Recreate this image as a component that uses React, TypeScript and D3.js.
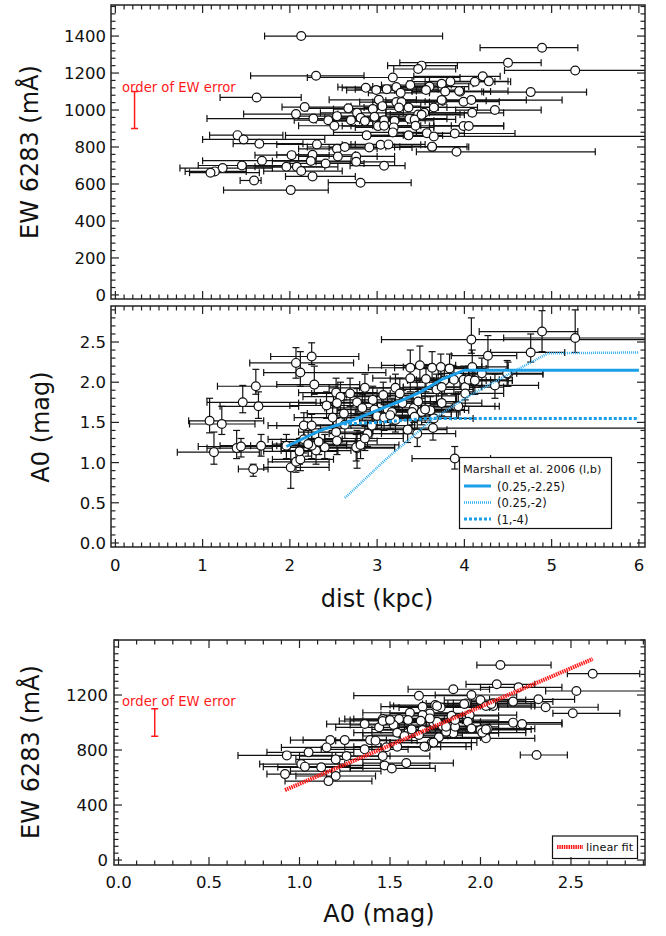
import React, { useEffect, useRef } from 'react';
import * as d3 from 'd3';

// top panel: dist (kpc), EW 6283 (mA), dist low, dist high
const ewDist: number[][] = [
  [2.13, 1400, 1.71, 3.75], [4.89, 1337, 4.18, 5.30], [4.50, 1256, 3.26, 4.88], [5.27, 1214, 4.46, 6.20],
  [3.51, 1240, 3.12, 3.92], [3.47, 1222, 3.19, 3.90], [2.30, 1185, 1.55, 2.85], [3.18, 1176, 2.20, 3.95],
  [4.21, 1182, 3.42, 4.41], [4.12, 1153, 3.55, 4.53], [4.28, 1155, 3.60, 4.50], [3.84, 1154, 3.40, 4.35],
  [3.74, 1142, 3.35, 4.10], [3.60, 1127, 2.95, 4.05], [3.38, 1135, 3.05, 3.85], [3.22, 1124, 2.55, 3.75],
  [2.87, 1120, 2.60, 3.55], [2.99, 1108, 2.65, 3.40], [3.11, 1113, 2.75, 3.70], [3.27, 1093, 2.90, 3.60],
  [3.56, 1108, 3.20, 4.00], [3.78, 1100, 3.40, 4.30], [3.95, 1099, 3.60, 4.20], [1.62, 1068, 1.20, 2.13],
  [3.02, 1055, 2.45, 3.45], [3.22, 1043, 2.80, 3.75], [3.28, 1043, 2.95, 3.60], [3.75, 1050, 3.10, 4.25],
  [3.99, 1045, 3.55, 4.40], [4.08, 1054, 3.70, 5.12], [3.94, 1103, 3.45, 4.50], [4.76, 1097, 4.22, 5.40],
  [2.17, 1016, 1.91, 2.65], [2.67, 1009, 2.20, 3.10], [2.77, 985, 2.35, 3.30], [2.95, 1005, 2.50, 3.35],
  [3.06, 1021, 2.70, 3.50], [3.25, 1014, 2.85, 3.70], [3.36, 1014, 3.00, 3.80], [3.47, 976, 3.15, 3.95],
  [3.54, 985, 3.10, 4.05], [3.65, 1014, 3.25, 4.15], [4.09, 985, 3.60, 4.45], [4.35, 1000, 3.90, 4.88],
  [2.07, 978, 1.47, 2.55], [2.27, 954, 1.05, 2.85], [2.44, 945, 2.05, 2.95], [2.54, 967, 2.10, 3.00],
  [2.70, 945, 2.30, 3.20], [2.81, 958, 2.40, 3.25], [2.86, 940, 2.50, 3.35], [2.97, 963, 2.55, 3.45],
  [3.08, 945, 2.70, 3.55], [3.20, 942, 2.80, 3.65], [3.37, 953, 2.95, 3.80], [3.43, 949, 3.05, 3.90],
  [3.51, 974, 3.10, 4.00], [3.74, 1054, 3.30, 4.71], [2.51, 915, 2.10, 2.95], [3.01, 913, 2.60, 3.45],
  [3.08, 915, 2.70, 3.50], [3.19, 906, 2.75, 3.65], [3.44, 915, 3.05, 3.85], [3.99, 914, 3.60, 4.45],
  [4.05, 914, 3.65, 4.45], [2.88, 863, 1.95, 3.30], [3.18, 879, 2.50, 3.60], [3.36, 863, 2.90, 3.75],
  [3.57, 875, 3.15, 4.00], [3.65, 857, 2.90, 6.20], [3.89, 873, 3.45, 4.58], [1.40, 864, 1.08, 1.92],
  [1.47, 841, 1.00, 2.40], [1.65, 818, 1.35, 2.15], [2.31, 814, 1.85, 2.75], [2.54, 790, 2.10, 3.00],
  [2.63, 800, 2.20, 3.10], [2.91, 798, 2.45, 3.40], [3.04, 812, 2.60, 3.50], [3.13, 814, 2.70, 3.55],
  [3.63, 800, 3.20, 4.05], [3.91, 774, 3.45, 5.50], [3.63, 802, 3.26, 4.03], [2.02, 756, 1.60, 2.45],
  [2.26, 758, 1.85, 2.75], [2.55, 749, 2.10, 3.00], [2.76, 749, 2.30, 3.20], [1.68, 726, 1.00, 2.20],
  [1.45, 700, 0.95, 1.95], [1.23, 686, 0.74, 1.80], [1.14, 668, 0.80, 1.50], [1.09, 661, 0.85, 1.65],
  [1.96, 693, 1.50, 2.40], [2.08, 693, 1.60, 2.55], [2.13, 670, 1.70, 2.60], [2.24, 724, 1.80, 2.70],
  [2.41, 711, 2.00, 2.85], [2.76, 720, 2.30, 3.20], [3.08, 699, 2.69, 3.32], [2.26, 641, 1.95, 2.75],
  [1.59, 619, 1.43, 1.67], [2.81, 607, 2.44, 3.39], [2.01, 567, 1.24, 2.44],
];

// middle panel: dist, A0, dist low, dist high, A0 low, A0 high
const a0Dist: number[][] = [
  [4.89, 2.63, 4.17, 5.30, 2.38, 2.89], [5.27, 2.55, 4.45, 6.20, 2.37, 2.90], [4.76, 2.37, 4.30, 5.15, 2.25, 2.60],
  [4.08, 2.53, 3.05, 6.20, 2.36, 2.80], [4.27, 2.33, 3.85, 4.60, 2.15, 2.58], [4.09, 2.19, 3.60, 4.50, 2.02, 2.40],
  [4.20, 2.11, 3.70, 4.60, 1.95, 2.30], [4.50, 2.10, 4.05, 4.90, 1.95, 2.25], [4.35, 1.96, 3.95, 4.85, 1.80, 2.10],
  [3.99, 2.03, 3.55, 4.40, 1.88, 2.20], [4.10, 2.02, 3.70, 4.55, 1.85, 2.20], [3.91, 1.70, 3.50, 4.35, 1.55, 1.85],
  [3.89, 1.05, 3.40, 4.30, 0.92, 1.20], [3.38, 2.18, 2.90, 3.80, 2.00, 2.40], [3.49, 2.21, 3.05, 3.90, 2.00, 2.45],
  [3.63, 2.18, 3.20, 4.05, 2.00, 2.38], [3.73, 2.19, 3.30, 4.20, 2.00, 2.35], [3.46, 1.83, 3.05, 3.90, 1.65, 2.00],
  [3.42, 1.68, 3.00, 3.85, 1.50, 1.85], [3.21, 1.93, 2.80, 3.65, 1.75, 2.10], [3.68, 1.91, 3.25, 4.10, 1.75, 2.10],
  [3.77, 2.02, 3.35, 4.25, 1.85, 2.20], [3.88, 2.03, 3.45, 4.30, 1.85, 2.20], [2.77, 1.18, 2.35, 3.20, 0.93, 1.40],
  [2.25, 2.32, 1.78, 2.79, 2.22, 2.49], [2.07, 2.24, 1.54, 2.73, 2.05, 2.43], [2.12, 2.12, 1.70, 3.10, 1.95, 2.38],
  [1.61, 1.95, 1.17, 2.55, 1.85, 2.16], [2.28, 1.97, 1.85, 2.80, 1.85, 2.20], [1.46, 1.75, 1.05, 2.30, 1.62, 1.96],
  [1.64, 1.70, 1.20, 2.10, 1.55, 1.88], [1.08, 1.52, 0.84, 1.70, 1.37, 1.80], [1.22, 1.48, 0.85, 1.60, 1.35, 1.70],
  [1.13, 1.13, 0.71, 1.65, 0.98, 1.38], [1.39, 1.18, 1.05, 1.80, 1.05, 1.40], [1.44, 1.20, 0.95, 1.90, 1.07, 1.30],
  [1.67, 1.21, 1.20, 2.10, 1.08, 1.35], [1.58, 0.92, 1.41, 1.75, 0.83, 0.98], [1.96, 1.21, 1.55, 2.40, 1.05, 1.35],
  [2.01, 0.94, 1.70, 2.45, 0.68, 1.15], [2.07, 1.01, 1.75, 2.45, 0.88, 1.15], [2.12, 1.04, 1.80, 2.50, 0.90, 1.20],
  [2.16, 1.46, 1.75, 2.60, 1.30, 1.62], [2.25, 1.46, 1.85, 2.70, 1.30, 1.60], [2.30, 1.15, 1.90, 2.70, 0.98, 1.30],
  [2.25, 1.21, 1.85, 2.65, 1.05, 1.35], [2.40, 1.19, 2.00, 2.85, 1.05, 1.35], [2.42, 1.71, 2.00, 2.85, 1.55, 1.88],
  [2.53, 1.87, 2.10, 3.00, 1.70, 2.05], [2.58, 1.82, 2.15, 3.05, 1.65, 2.00], [2.69, 1.86, 2.25, 3.15, 1.70, 2.05],
  [2.49, 1.56, 2.05, 2.95, 1.40, 1.72], [2.53, 1.38, 2.10, 2.95, 1.22, 1.55], [2.54, 1.27, 2.10, 3.00, 1.10, 1.42],
  [2.63, 1.47, 2.20, 3.05, 1.30, 1.62], [2.76, 1.19, 2.35, 3.20, 1.02, 1.35], [2.81, 1.22, 2.40, 3.25, 1.05, 1.38],
  [2.89, 1.36, 2.45, 3.30, 1.20, 1.52], [2.86, 1.30, 2.40, 3.30, 1.15, 1.45], [2.86, 1.93, 2.45, 3.30, 1.75, 2.10],
  [2.77, 1.75, 2.35, 3.20, 1.60, 1.92], [2.83, 1.68, 2.40, 3.25, 1.52, 1.85], [2.95, 1.78, 2.50, 3.40, 1.62, 1.95],
  [2.97, 1.66, 2.55, 3.40, 1.50, 1.82], [3.00, 1.58, 2.60, 3.45, 1.42, 1.75], [2.94, 1.46, 2.50, 3.40, 1.30, 1.62],
  [3.07, 1.84, 2.65, 3.50, 1.68, 2.00], [3.12, 1.66, 2.70, 3.55, 1.50, 1.82], [3.26, 1.86, 2.85, 3.70, 1.70, 2.05],
  [3.17, 1.63, 2.75, 3.60, 1.47, 1.80], [3.29, 1.74, 2.85, 3.70, 1.58, 1.90], [3.38, 2.05, 2.95, 3.80, 1.88, 2.22],
  [3.47, 1.76, 3.05, 3.90, 1.60, 1.92], [3.40, 1.63, 3.00, 3.85, 1.47, 1.80], [3.51, 1.63, 3.10, 3.95, 1.47, 1.80],
  [3.35, 1.41, 2.95, 3.80, 1.25, 1.58], [3.46, 1.36, 3.05, 3.90, 1.20, 1.52], [3.56, 2.04, 3.15, 4.00, 1.88, 2.22],
  [3.83, 2.17, 3.40, 4.25, 2.00, 2.35], [3.74, 1.94, 3.30, 4.20, 1.78, 2.10], [3.74, 1.74, 3.30, 4.20, 1.58, 1.90],
  [3.64, 1.43, 2.35, 6.20, 1.28, 1.60], [3.65, 1.55, 3.20, 4.10, 1.40, 1.72], [4.01, 1.94, 3.55, 4.45, 1.78, 2.10],
  [4.01, 1.86, 3.55, 4.45, 1.70, 2.02], [4.05, 2.03, 3.60, 4.50, 1.88, 2.20], [4.12, 2.02, 3.65, 4.55, 1.85, 2.18],
  [4.49, 2.11, 4.05, 4.90, 1.95, 2.27], [3.93, 1.70, 3.50, 4.40, 1.55, 1.88], [3.61, 1.65, 3.15, 4.05, 1.50, 1.82],
  [3.55, 1.66, 3.10, 4.00, 1.50, 1.82], [3.43, 1.57, 3.00, 3.85, 1.42, 1.72], [3.21, 1.53, 2.80, 3.65, 1.38, 1.70],
  [3.08, 1.56, 2.65, 3.50, 1.40, 1.72], [3.15, 1.59, 2.70, 3.60, 1.42, 1.75], [2.62, 1.61, 2.20, 3.05, 1.45, 1.78],
  [2.16, 1.29, 1.75, 2.60, 1.12, 1.45], [2.21, 1.23, 1.80, 2.65, 1.08, 1.40], [2.33, 1.26, 1.90, 2.75, 1.10, 1.42],
  [2.11, 1.14, 1.70, 2.55, 0.98, 1.30], [2.54, 1.74, 2.10, 3.00, 1.58, 1.90],
];

// bottom panel: A0, EW 6283, A0 low, A0 high
const ewA0: number[][] = [
  [2.11, 1418, 1.98, 2.39], [2.62, 1355, 2.48, 2.88], [2.53, 1229, 2.36, 2.95], [2.09, 1278, 1.92, 2.30],
  [1.85, 1242, 1.60, 2.05], [1.66, 1195, 1.30, 1.95], [1.95, 1200, 1.75, 2.20], [2.21, 1256, 2.00, 2.45],
  [2.32, 1169, 2.05, 2.52], [2.36, 1111, 2.10, 2.65], [2.51, 1067, 2.40, 2.77], [2.18, 999, 1.95, 2.45],
  [2.23, 989, 2.00, 2.45], [2.31, 764, 2.22, 2.48], [2.03, 885, 1.75, 2.30], [2.00, 946, 1.75, 2.25],
  [1.85, 922, 1.60, 2.10], [2.18, 1152, 1.95, 2.40], [2.07, 1140, 1.85, 2.30], [2.00, 1163, 1.80, 2.25],
  [1.92, 1139, 1.70, 2.15], [2.07, 1120, 1.85, 2.30], [1.75, 1127, 1.50, 2.00], [1.78, 1110, 1.55, 2.05],
  [1.68, 1115, 1.45, 1.95], [1.72, 1066, 1.50, 1.95], [1.68, 1054, 1.45, 1.90], [1.61, 1071, 1.35, 1.85],
  [1.84, 1049, 1.60, 2.10], [1.94, 1054, 1.70, 2.20], [1.46, 1025, 1.25, 1.70], [1.55, 1025, 1.30, 1.80],
  [1.60, 1018, 1.35, 1.85], [1.67, 1013, 1.45, 1.90], [1.36, 989, 1.15, 1.60], [1.44, 965, 1.20, 1.70],
  [1.46, 1011, 1.22, 1.70], [1.52, 982, 1.28, 1.78], [1.54, 926, 1.30, 1.80], [1.60, 926, 1.35, 1.85],
  [1.62, 950, 1.40, 1.88], [1.68, 945, 1.45, 1.92], [1.74, 999, 1.50, 2.00], [1.79, 974, 1.55, 2.05],
  [1.86, 969, 1.62, 2.10], [1.81, 933, 1.58, 2.05], [1.93, 1006, 1.70, 2.18], [1.95, 957, 1.72, 2.20],
  [2.01, 926, 1.78, 2.25], [2.04, 955, 1.80, 2.30], [1.77, 892, 1.55, 2.00], [1.73, 853, 1.50, 1.95],
  [1.70, 824, 1.45, 1.95], [1.66, 909, 1.40, 1.90], [1.58, 902, 1.35, 1.82], [1.54, 824, 1.30, 1.78],
  [1.39, 872, 1.15, 1.62], [1.42, 868, 1.20, 1.65], [1.25, 872, 1.02, 1.48], [1.17, 872, 0.95, 1.40],
  [1.15, 819, 0.90, 1.40], [1.36, 805, 1.12, 1.60], [1.46, 756, 1.20, 1.72], [1.26, 756, 1.00, 1.50],
  [1.20, 732, 0.98, 1.45], [1.05, 783, 0.82, 1.30], [0.93, 761, 0.66, 1.18], [1.01, 698, 0.78, 1.25],
  [1.03, 679, 0.80, 1.28], [1.12, 674, 0.88, 1.35], [1.20, 647, 0.95, 1.45], [1.20, 611, 0.98, 1.42],
  [1.16, 574, 0.92, 1.40], [0.92, 625, 0.82, 1.15], [1.47, 688, 1.22, 1.72], [1.51, 666, 1.28, 1.75],
  [1.59, 705, 1.35, 1.85], [1.48, 820, 1.25, 1.72], [1.69, 825, 1.45, 1.92], [1.74, 854, 1.50, 1.98],
  [1.86, 1018, 1.62, 2.10], [1.81, 970, 1.58, 2.05], [1.76, 1006, 1.52, 2.00], [1.72, 1030, 1.48, 1.96],
  [1.50, 1018, 1.28, 1.75], [1.76, 1120, 1.52, 2.00], [1.91, 1135, 1.68, 2.15], [2.03, 1120, 1.80, 2.28],
  [2.06, 1135, 1.82, 2.30], [2.03, 950, 1.80, 2.28],
];

const distTicks = [0, 1, 2, 3, 4, 5, 6];
const ewTicksTop = [0, 200, 400, 600, 800, 1000, 1200, 1400];
const a0TicksMid = [0.0, 0.5, 1.0, 1.5, 2.0, 2.5];
const a0TicksBottom = [0.0, 0.5, 1.0, 1.5, 2.0, 2.5];
const ewTicksBottom = [0, 400, 800, 1200];

// Marshall et al. 2006 extinction curves, (dist, A0)
const marshallSolid = [[1.96, 1.20], [2.35, 1.40], [2.70, 1.52], [3.00, 1.65], [3.25, 1.76], [3.50, 1.88], [3.75, 2.04], [4.00, 2.15], [6.00, 2.15]];
const marshallDotted = [[2.63, 0.56], [3.11, 1.05], [3.65, 1.55], [4.07, 1.84], [4.49, 2.09], [4.96, 2.36], [6.00, 2.37]];
const marshallDashed = [[2.62, 1.48], [3.00, 1.50], [3.60, 1.55], [6.00, 1.55]];
// linear fit EW vs A0
const fitLine = [[0.92, 509], [2.62, 1462]];
const ewErrBar = [900, 1100];

const BLUE = '#1a9fe8';
const RED = '#ff1a1a';
const FONT = 'DejaVu Sans, sans-serif';

type Sel = d3.Selection<SVGGElement, unknown, null, undefined>;

function frame(g: Sel, x: d3.ScaleLinear<number, number>, y: d3.ScaleLinear<number, number>,
  xMinorStep: number, xMajor: number[], yMinorStep: number, yMajor: number[]) {
  const [x0, x1] = x.range();
  const [y0, y1] = y.range();
  const ticks = g.append('g').attr('stroke', '#222').attr('stroke-width', 1.2);
  const xd = x.domain(), yd = y.domain();
  const xMinor = d3.range(Math.ceil(xd[0] / xMinorStep), Math.floor(xd[1] / xMinorStep) + 1).map(i => i * xMinorStep);
  const yMinor = d3.range(Math.ceil(yd[0] / yMinorStep), Math.floor(yd[1] / yMinorStep) + 1).map(i => i * yMinorStep);
  xMinor.forEach(v => {
    const len = xMajor.some(m => Math.abs(m - v) < 1e-6) ? 8 : 4.5;
    ticks.append('line').attr('x1', x(v)).attr('x2', x(v)).attr('y1', y0).attr('y2', y0 - len);
    ticks.append('line').attr('x1', x(v)).attr('x2', x(v)).attr('y1', y1).attr('y2', y1 + len);
  });
  yMinor.forEach(v => {
    const len = yMajor.some(m => Math.abs(m - v) < 1e-6) ? 8 : 4.5;
    ticks.append('line').attr('y1', y(v)).attr('y2', y(v)).attr('x1', x0).attr('x2', x0 + len);
    ticks.append('line').attr('y1', y(v)).attr('y2', y(v)).attr('x1', x1).attr('x2', x1 - len);
  });
  g.append('rect').attr('x', x0).attr('y', y1).attr('width', x1 - x0).attr('height', y0 - y1)
    .attr('fill', 'none').attr('stroke', '#222').attr('stroke-width', 1.5);
}

function yLabels(g: Sel, y: d3.ScaleLinear<number, number>, vals: number[], xr: number, fmt: (v: number) => string) {
  g.selectAll(null).data(vals).enter().append('text')
    .attr('x', xr).attr('y', d => y(d)).attr('dy', '0.36em')
    .attr('text-anchor', 'end').attr('font-size', 16.5).attr('font-family', FONT).attr('fill', '#111')
    .text(d => fmt(d));
}

function xLabels(g: Sel, x: d3.ScaleLinear<number, number>, vals: number[], yb: number, fmt: (v: number) => string) {
  g.selectAll(null).data(vals).enter().append('text')
    .attr('x', d => x(d)).attr('y', yb)
    .attr('text-anchor', 'middle').attr('font-size', 16.5).attr('font-family', FONT).attr('fill', '#111')
    .text(d => fmt(d));
}

function hBars(g: Sel, rows: number[][], x: d3.ScaleLinear<number, number>, y: d3.ScaleLinear<number, number>, ix: number, iy: number, lo: number, hi: number) {
  const bars = g.append('g').attr('stroke', '#111').attr('stroke-width', 1.2).attr('fill', 'none');
  rows.forEach(r => {
    const yy = y(r[iy]);
    bars.append('line').attr('x1', x(r[lo])).attr('x2', x(r[hi])).attr('y1', yy).attr('y2', yy);
    bars.append('line').attr('x1', x(r[lo])).attr('x2', x(r[lo])).attr('y1', yy - 3.5).attr('y2', yy + 3.5);
    bars.append('line').attr('x1', x(r[hi])).attr('x2', x(r[hi])).attr('y1', yy - 3.5).attr('y2', yy + 3.5);
  });
}

function vBars(g: Sel, rows: number[][], x: d3.ScaleLinear<number, number>, y: d3.ScaleLinear<number, number>, ix: number, lo: number, hi: number) {
  const bars = g.append('g').attr('stroke', '#111').attr('stroke-width', 1.2).attr('fill', 'none');
  rows.forEach(r => {
    const xx = x(r[ix]);
    bars.append('line').attr('y1', y(r[lo])).attr('y2', y(r[hi])).attr('x1', xx).attr('x2', xx);
    bars.append('line').attr('y1', y(r[lo])).attr('y2', y(r[lo])).attr('x1', xx - 3.5).attr('x2', xx + 3.5);
    bars.append('line').attr('y1', y(r[hi])).attr('y2', y(r[hi])).attr('x1', xx - 3.5).attr('x2', xx + 3.5);
  });
}

function dots(g: Sel, rows: number[][], x: d3.ScaleLinear<number, number>, y: d3.ScaleLinear<number, number>, ix: number, iy: number) {
  g.append('g').selectAll('circle').data(rows).enter().append('circle')
    .attr('cx', d => x(d[ix])).attr('cy', d => y(d[iy])).attr('r', 4.4)
    .attr('fill', '#fff').attr('stroke', '#111').attr('stroke-width', 1.2);
}

function errNote(g: Sel, x: d3.ScaleLinear<number, number>, y: d3.ScaleLinear<number, number>, xv: number, tx: number, ty: number) {
  g.append('text').attr('x', tx).attr('y', ty).attr('font-size', 13.2).attr('font-family', FONT)
    .attr('fill', RED).text('order of EW error');
  const p = x(xv);
  g.append('line').attr('x1', p).attr('x2', p).attr('y1', y(ewErrBar[0])).attr('y2', y(ewErrBar[1])).attr('stroke', RED).attr('stroke-width', 1.5);
  ewErrBar.forEach(v => g.append('line').attr('x1', p - 3.5).attr('x2', p + 3.5).attr('y1', y(v)).attr('y2', y(v)).attr('stroke', RED).attr('stroke-width', 1.5));
}

function yTitle(svg: Sel, cx: number, cy: number, txt: string) {
  svg.append('text').attr('transform', `translate(${cx},${cy}) rotate(-90)`).attr('dy', '0.36em')
    .attr('text-anchor', 'middle').attr('font-size', 24).attr('font-family', FONT).attr('fill', '#111').text(txt);
}

function xTitle(svg: Sel, cx: number, yb: number, txt: string) {
  svg.append('text').attr('x', cx).attr('y', yb)
    .attr('text-anchor', 'middle').attr('font-size', 24).attr('font-family', FONT).attr('fill', '#111').text(txt);
}

export default function App() {
  const ref = useRef<SVGSVGElement>(null);

  useEffect(() => {
    const root = d3.select(ref.current);
    root.selectAll('*').remove();
    const svg = root.append('g') as Sel;

    // ---------- top: EW vs dist
    const x1 = d3.scaleLinear().domain([-0.05, 6.07]).range([111, 645]);
    const y1 = d3.scaleLinear().domain([-22, 1568]).range([299, 5]);
    svg.append('clipPath').attr('id', 'c1').append('rect').attr('x', 111).attr('y', 5).attr('width', 534).attr('height', 294);
    const p1 = svg.append('g').attr('clip-path', 'url(#c1)') as Sel;
    hBars(p1, ewDist, x1, y1, 0, 1, 2, 3);
    dots(p1, ewDist, x1, y1, 0, 1);
    errNote(svg, x1, y1, 0.22, 122, 92);
    frame(svg, x1, y1, 0.1, distTicks, 40, ewTicksTop);
    yLabels(svg, y1, ewTicksTop, 106, d => String(d));
    yTitle(svg, 29, 152, 'EW 6283 (mÅ)');

    // ---------- middle: A0 vs dist
    const x2 = d3.scaleLinear().domain([-0.05, 6.07]).range([111, 645]);
    const y2 = d3.scaleLinear().domain([-0.05, 2.948]).range([547, 306]);
    svg.append('clipPath').attr('id', 'c2').append('rect').attr('x', 111).attr('y', 306).attr('width', 534).attr('height', 241);
    const p2 = svg.append('g').attr('clip-path', 'url(#c2)') as Sel;
    hBars(p2, a0Dist, x2, y2, 0, 1, 2, 3);
    vBars(p2, a0Dist, x2, y2, 0, 4, 5);
    dots(p2, a0Dist, x2, y2, 0, 1);
    const line = d3.line<number[]>().x(d => x2(d[0])).y(d => y2(d[1]));
    p2.append('path').attr('d', line(marshallSolid)).attr('fill', 'none').attr('stroke', BLUE).attr('stroke-width', 3);
    p2.append('path').attr('d', line(marshallDotted)).attr('fill', 'none').attr('stroke', '#35b0f0').attr('stroke-width', 2.5).attr('stroke-dasharray', '1 1');
    p2.append('path').attr('d', line(marshallDashed)).attr('fill', 'none').attr('stroke', BLUE).attr('stroke-width', 3).attr('stroke-dasharray', '3 2');
    // legend
    const lg = svg.append('g');
    lg.append('rect').attr('x', 459.5).attr('y', 457.5).attr('width', 152).attr('height', 71).attr('fill', '#fff').attr('stroke', '#111').attr('stroke-width', 1.2);
    lg.append('text').attr('x', 463).attr('y', 473).attr('font-size', 11.3).attr('font-family', FONT).attr('fill', '#111').text('Marshall et al. 2006 (l,b)');
    const entries: [string, number, string, string][] = [['(0.25,-2.25)', 3, 'none', BLUE], ['(0.25,-2)', 2.5, '1 1', '#35b0f0'], ['(1,-4)', 3, '3 2', BLUE]];
    entries.forEach(([t, w, da, c], i) => {
      const yy = 486 + i * 16.5;
      lg.append('line').attr('x1', 464).attr('x2', 491).attr('y1', yy).attr('y2', yy).attr('stroke', c).attr('stroke-width', w).attr('stroke-dasharray', da);
      lg.append('text').attr('x', 497).attr('y', yy + 4.5).attr('font-size', 11.5).attr('font-family', FONT).attr('fill', '#111').text(t);
    });
    frame(svg, x2, y2, 0.1, distTicks, 0.1, a0TicksMid);
    yLabels(svg, y2, a0TicksMid, 106, d => d.toFixed(1));
    xLabels(svg, x2, distTicks, 571, d => String(d));
    yTitle(svg, 40, 427, 'A0 (mag)');
    xTitle(svg, 377, 607, 'dist (kpc)');

    // ---------- bottom: EW vs A0
    const x3 = d3.scaleLinear().domain([-0.025, 2.909]).range([114, 645]);
    const y3 = d3.scaleLinear().domain([-36, 1600]).range([865, 640]);
    svg.append('clipPath').attr('id', 'c3').append('rect').attr('x', 114).attr('y', 640).attr('width', 531).attr('height', 225);
    const p3 = svg.append('g').attr('clip-path', 'url(#c3)') as Sel;
    hBars(p3, ewA0, x3, y3, 0, 1, 2, 3);
    dots(p3, ewA0, x3, y3, 0, 1);
    const fl = d3.line<number[]>().x(d => x3(d[0])).y(d => y3(d[1]));
    p3.append('path').attr('d', fl(fitLine)).attr('fill', 'none').attr('stroke', RED).attr('stroke-width', 4).attr('stroke-dasharray', '1.5 0.8');
    errNote(svg, x3, y3, 0.2, 122, 706);
    const lg2 = svg.append('g');
    lg2.append('rect').attr('x', 552.5).attr('y', 836).attr('width', 85).attr('height', 22.5).attr('fill', '#fff').attr('stroke', '#111').attr('stroke-width', 1.2);
    lg2.append('line').attr('x1', 557).attr('x2', 583).attr('y1', 847).attr('y2', 847).attr('stroke', RED).attr('stroke-width', 4).attr('stroke-dasharray', '1.5 0.8');
    lg2.append('text').attr('x', 586).attr('y', 851).attr('font-size', 11.3).attr('font-family', FONT).attr('fill', '#111').text('linear fit');
    frame(svg, x3, y3, 0.1, a0TicksBottom, 50, ewTicksBottom);
    yLabels(svg, y3, ewTicksBottom, 108, d => String(d));
    xLabels(svg, x3, a0TicksBottom, 888, d => d.toFixed(1));
    yTitle(svg, 30, 752, 'EW 6283 (mÅ)');
    xTitle(svg, 379, 922, 'A0 (mag)');
  }, []);

  return (
    <div style={{ position: 'absolute', left: 0, top: 0 }}>
      <svg ref={ref} width={666} height={936} style={{ display: 'block', background: '#fff' }} />
    </div>
  );
}
